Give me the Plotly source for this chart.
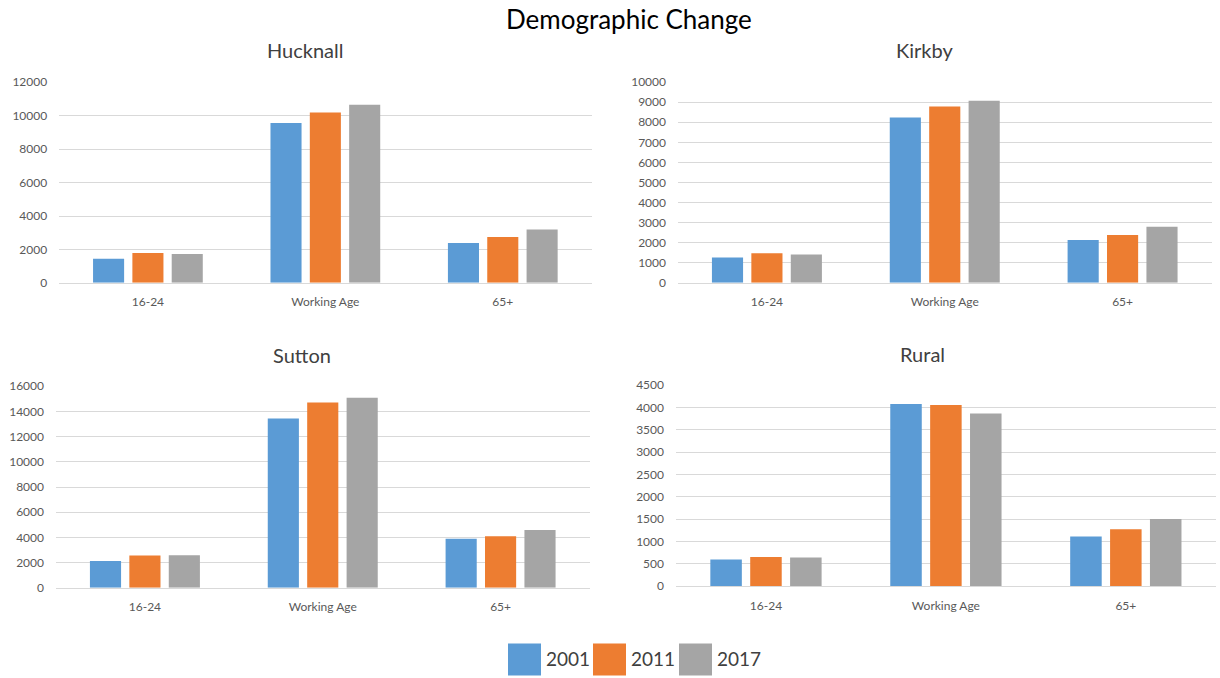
import plotly.graph_objects as go
from plotly.subplots import make_subplots

# Age bands and census / estimate years
categories = ["16-24", "Working Age", "65+"]
years = ["2001", "2011", "2017"]
colors = ["#5B9BD5", "#ED7D31", "#A5A5A5"]

# Population by area, one list per year (16-24, Working Age, 65+)
hucknall_2001 = [1450, 9570, 2390]
hucknall_2011 = [1790, 10190, 2750]
hucknall_2017 = [1730, 10660, 3190]

kirkby_2001 = [1260, 8240, 2140]
kirkby_2011 = [1480, 8790, 2390]
kirkby_2017 = [1410, 9070, 2800]

sutton_2001 = [2120, 13440, 3890]
sutton_2011 = [2570, 14710, 4100]
sutton_2017 = [2580, 15080, 4580]

rural_2001 = [597, 4082, 1112]
rural_2011 = [657, 4060, 1276]
rural_2017 = [642, 3866, 1507]

areas = [
    ("Hucknall", [hucknall_2001, hucknall_2011, hucknall_2017], 12000, 2000, 1, 1),
    ("Kirkby", [kirkby_2001, kirkby_2011, kirkby_2017], 10000, 1000, 1, 2),
    ("Sutton", [sutton_2001, sutton_2011, sutton_2017], 16000, 2000, 2, 1),
    ("Rural", [rural_2001, rural_2011, rural_2017], 4500, 500, 2, 2),
]

W, H = 1220, 678
FONT = "Lato"
TICK_COLOR = "#595959"
GRID = "#D9D9D9"


def px_y(y):
    """Vertical pixel position -> paper fraction (with page-fit correction)."""
    return 1 - ((y - 8.4) / 0.978) / H


def px_x(x):
    return x / W


fig = make_subplots(rows=2, cols=2)

for name, series, ymax, dtick, r, c in areas:
    for yr, vals, col in zip(years, series, colors):
        fig.add_trace(
            go.Bar(x=categories, y=vals, name=yr, marker=dict(color=col, line=dict(width=0)),
                   showlegend=False),
            row=r, col=c,
        )
    fig.update_yaxes(range=[0, ymax], dtick=dtick, tickformat="d", showgrid=True,
                     gridcolor=GRID, gridwidth=1, zeroline=False, showline=False, ticks="",
                     ticklabelstandoff=11,
                     tickfont=dict(family=FONT, size=12, color=TICK_COLOR), row=r, col=c)
    fig.update_xaxes(showline=True, linecolor=GRID, linewidth=1, ticks="", ticklabelstandoff=8,
                     tickfont=dict(family=FONT, size=12, color=TICK_COLOR), row=r, col=c)

# Panel positions in pixels: (left, right, top, bottom)
panels = {
    (1, 1): (59.2, 591.5, 82.7, 283.3),
    (1, 2): (678, 1211.5, 82.5, 283.3),
    (2, 1): (56, 589.5, 386.7, 588.3),
    (2, 2): (676, 1215.8, 385.7, 586.7),
}
axis_ids = {(1, 1): ("xaxis", "yaxis"), (1, 2): ("xaxis2", "yaxis2"),
            (2, 1): ("xaxis3", "yaxis3"), (2, 2): ("xaxis4", "yaxis4")}
for key, (l, rr, t, b) in panels.items():
    xa, ya = axis_ids[key]
    fig.layout[xa].domain = [px_x(l), px_x(rr)]
    fig.layout[ya].domain = [px_y(b), px_y(t)]

annotations = [
    dict(text="Demographic Change", x=px_x(629), y=px_y(19), xref="paper", yref="paper",
         showarrow=False, font=dict(family=FONT, size=26, color="#000000"),
         xanchor="center", yanchor="middle"),
]
title_pos = {"Hucknall": (305, 50), "Kirkby": (924, 50), "Sutton": (302, 355), "Rural": (922, 354)}
for name, (px, py) in title_pos.items():
    annotations.append(dict(text=name, x=px_x(px), y=px_y(py), xref="paper", yref="paper",
                            showarrow=False, font=dict(family=FONT, size=20, color="#404040"),
                            xanchor="center", yanchor="middle"))

# Legend drawn as large swatches with labels beneath the panels
shapes = []
swatch_left = [508, 593, 679]
for yr, col, sx in zip(years, colors, swatch_left):
    shapes.append(dict(type="rect", xref="paper", yref="paper",
                       x0=px_x(sx), x1=px_x(sx + 33), y0=px_y(676), y1=px_y(644),
                       fillcolor=col, line=dict(width=0)))
    annotations.append(dict(text=yr, x=px_x(sx + 36), y=px_y(659), xref="paper", yref="paper",
                            showarrow=False, font=dict(family=FONT, size=19, color="#404040"),
                            xanchor="left", yanchor="middle"))

fig.update_layout(
    width=W, height=H,
    margin=dict(l=0, r=0, t=0, b=0),
    paper_bgcolor="white", plot_bgcolor="white",
    barmode="group", bargap=0.335, bargroupgap=0.21,
    annotations=annotations, shapes=shapes,
    font=dict(family=FONT),
)

fig.write_html("out.html")
